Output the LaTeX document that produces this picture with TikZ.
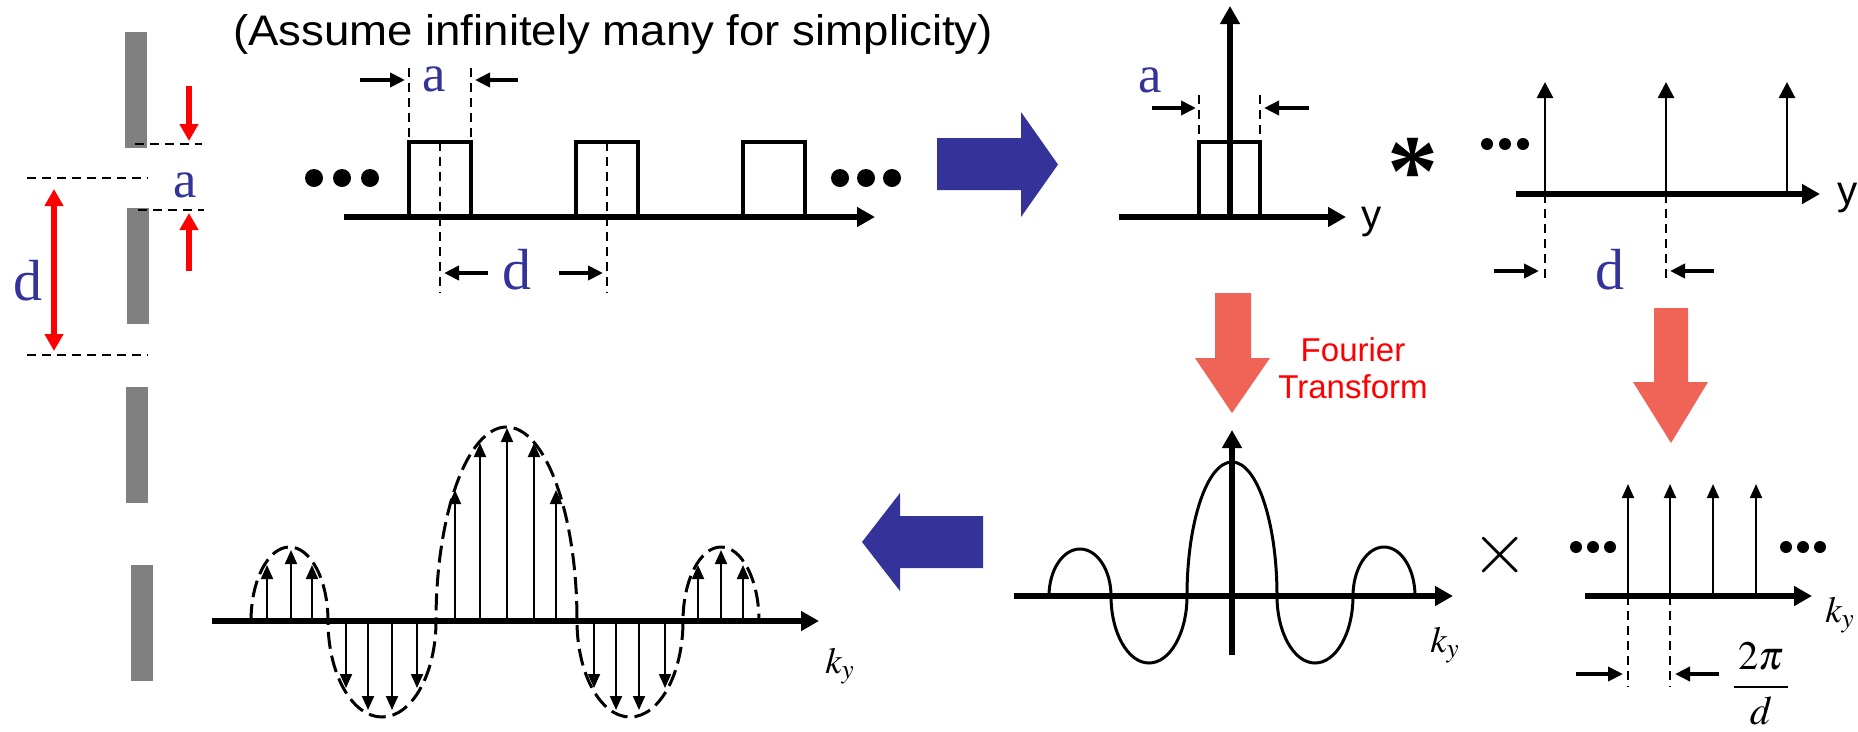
\documentclass[tikz,border=0pt]{standalone}
\usepackage{mathptmx}
\usepackage{fontspec}
\setmainfont{Liberation Serif}
\setsansfont{Liberation Sans}
\usepackage{graphicx}
\usetikzlibrary{arrows.meta}
\definecolor{slitgray}{HTML}{808080}
\definecolor{navy}{HTML}{333399}
\definecolor{salmon}{HTML}{F06357}

\begin{document}
\begin{tikzpicture}[
    x=0.02cm, y=-0.02cm,
    every node/.style={inner sep=0pt},
    lbl/.style={text=navy, font=\rmfamily\fontsize{33}{36}\selectfont},
    albl/.style={lbl, font=\rmfamily\fontsize{30}{32}\selectfont},
    ylbl/.style={font=\sffamily\fontsize{23}{26}\selectfont},
    kylbl/.style={font=\fontsize{21}{24}\selectfont},
    axis/.style={line width=1.2mm, -{Triangle[length=3.6mm, width=3.8mm]}},
    pulse/.style={line width=0.7mm},
    spike/.style={line width=0.55mm, -{Triangle[length=3.2mm, width=3.2mm]}},
    sample/.style={line width=0.4mm, -{Triangle[length=2.8mm, width=2.4mm]}},
    dimarr/.style={line width=0.8mm, -{Triangle[length=3mm, width=2.8mm]}},
    guide/.style={line width=0.3mm, dash pattern=on 1.8mm off 1.2mm},
    redarr/.style={red, line width=1.2mm, -{Triangle[length=3.4mm, width=3.6mm]}},
    envelope/.style={line width=0.6mm, dash pattern=on 3.4mm off 1.4mm}
]
    \useasboundingbox (0,0) rectangle (1858,731);

    % Slits
    \foreach \xa/\ya in {125/32, 127/208, 126/387, 131/565}
        \fill[slitgray] (\xa,\ya) rectangle ++(22,116);
    \draw[guide] (135,144) -- (202,144);
    \draw[guide] (27,178) -- (148,178);
    \draw[guide] (138,210) -- (204,210);
    \draw[guide] (27,355) -- (148,355);
    \draw[redarr] (189,86) -- (189,141);
    \draw[redarr] (189,271) -- (189,213);
    \draw[redarr, {Triangle[length=3.4mm, width=3.6mm]}-{Triangle[length=3.4mm, width=3.6mm]}]
        (54,189) -- (54,351);
    \node[albl] (slita) at (185,185) {a};
    \node[lbl] (slitd) at (28,281) {d};

    % Note
    \node[anchor=base] (note) at (613,45)
        {\resizebox{15.2cm}{0.62cm}{\sffamily (Assume infinitely many for simplicity)}};

    % Periodic aperture
    \draw[axis] (344,217) -- (875,217);
    \foreach \xa in {409,576,743}
        \draw[pulse] (\xa,217) -- (\xa,142) -- ++(62,0) -- ++(0,75);
    \draw[guide] (440,142) -- (440,292);
    \draw[guide] (607,142) -- (607,292);
    \draw[guide] (409,68) -- (409,142);
    \draw[guide] (471,68) -- (471,142);
    \draw[dimarr] (360,80) -- (405,80);
    \draw[dimarr] (518,80) -- (475,80);
    \node[albl] (pera) at (434,79) {a};
    \draw[dimarr] (488,273) -- (444,273);
    \draw[dimarr] (559,273) -- (603,273);
    \node[lbl] (perd) at (517,270) {d};
    \foreach \xa in {314,342,370,840,866,892}
        \fill (\xa,178) circle[radius=9];

    % Blue arrow
    \fill[navy] (937,138) -- (1021,138) -- (1021,112) -- (1058,164.5)
        -- (1021,217) -- (1021,190) -- (937,190) -- cycle;

    % Single slit
    \draw[axis] (1119,217) -- (1346,217);
    \draw[pulse] (1199,217) -- (1199,142) -- (1260,142) -- (1260,217);
    \draw[axis] (1230,220) -- (1230,6);
    \draw[guide] (1199,95) -- (1199,142);
    \draw[guide] (1260,95) -- (1260,142);
    \draw[dimarr] (1152,108) -- (1196,108);
    \draw[dimarr] (1309,108) -- (1264,108);
    \node[albl] (onea) at (1150,80) {a};
    \node[ylbl] (oney) at (1372,222) {y};

    \node[font=\rmfamily\bfseries\fontsize{58}{58}\selectfont] (conv) at (1413,172) {*};

    % Comb
    \draw[axis] (1516,194) -- (1820,194);
    \foreach \xa in {1545,1666,1787}
        \draw[spike] (\xa,194) -- (\xa,82);
    \foreach \xa in {1487,1505,1523}
        \fill (\xa,144) circle[radius=6];
    \draw[guide] (1545,194) -- (1545,283);
    \draw[guide] (1666,194) -- (1666,283);
    \draw[dimarr] (1494,271) -- (1539,271);
    \draw[dimarr] (1714,271) -- (1670,271);
    \node[lbl] (combd) at (1610,270) {d};
    \node[ylbl] (comby) at (1848,198) {y};

    % Fourier transform arrows
    \fill[salmon] (1215,293) -- (1251,293) -- (1251,358) -- (1270,358)
        -- (1232,413) -- (1195,358) -- (1215,358) -- cycle;
    \node[text=red, align=center, font=\sffamily\fontsize{18.8}{21}\selectfont]
        (ft) at (1353,368) {Fourier\\Transform};
    \fill[salmon] (1654,308) -- (1688,308) -- (1688,382) -- (1708,382)
        -- (1671,443) -- (1633,382) -- (1654,382) -- cycle;

    % Sinc
    \draw[axis] (1014,596) -- (1453,596);
    \draw[axis] (1232,655) -- (1232,430);
    \draw[line width=0.6mm] (1049,596)
        arc[start angle=180, end angle=360, x radius=31, y radius=47]
        arc[start angle=180, end angle=0, x radius=38, y radius=67]
        arc[start angle=180, end angle=360, x radius=45, y radius=134]
        arc[start angle=180, end angle=0, x radius=38, y radius=67]
        arc[start angle=180, end angle=360, x radius=31, y radius=49];
    \node[kylbl] (sincky) at (1445,645) {$k_y$};
    \node[font=\fontsize{42}{42}\selectfont] (prod) at (1500,555) {$\times$};

    % Comb in k
    \draw[axis] (1585,596) -- (1812,596);
    \foreach \xa in {1628,1670,1713,1756}
        \draw[sample] (\xa,596) -- (\xa,484);
    \foreach \xa in {1576,1593,1610,1786,1803,1820}
        \fill (\xa,547) circle[radius=6];
    \draw[guide] (1628,596) -- (1628,687);
    \draw[guide] (1670,596) -- (1670,687);
    \draw[dimarr] (1576,674) -- (1623,674);
    \draw[dimarr] (1719,674) -- (1675,674);
    \node[font=\fontsize{23}{26}\selectfont] (kperiod) at (1761,684)
        {$\displaystyle\frac{\,2\pi\,}{d}$};
    \node[kylbl] (combky) at (1840,615) {$k_y$};

    % Blue arrow back
    \fill[navy] (983,516) -- (900,516) -- (900,493) -- (862,542)
        -- (900,591) -- (900,568) -- (983,568) -- cycle;

    % Sampled spectrum
    \draw[axis] (212,621) -- (819,621);
    \draw[envelope] (251,621)
        arc[start angle=180, end angle=360, x radius=38.5, y radius=74]
        arc[start angle=180, end angle=0, x radius=54, y radius=96]
        arc[start angle=180, end angle=360, x radius=70.5, y radius=194]
        arc[start angle=180, end angle=0, x radius=53, y radius=96]
        arc[start angle=180, end angle=360, x radius=38, y radius=74];
    \foreach \xa/\ya in {267/565, 291/550, 312/565, 346/688, 368/710, 392/710,
                         417/688, 455/490, 480/443, 507/428, 534/443, 556/490,
                         594/688, 616/710, 639/710, 665/688, 698/565, 721/550, 743/565}
        \draw[sample] (\xa,621) -- (\xa,\ya);
    \node[kylbl] (sampky) at (840,666) {$k_y$};
\end{tikzpicture}
\end{document}
